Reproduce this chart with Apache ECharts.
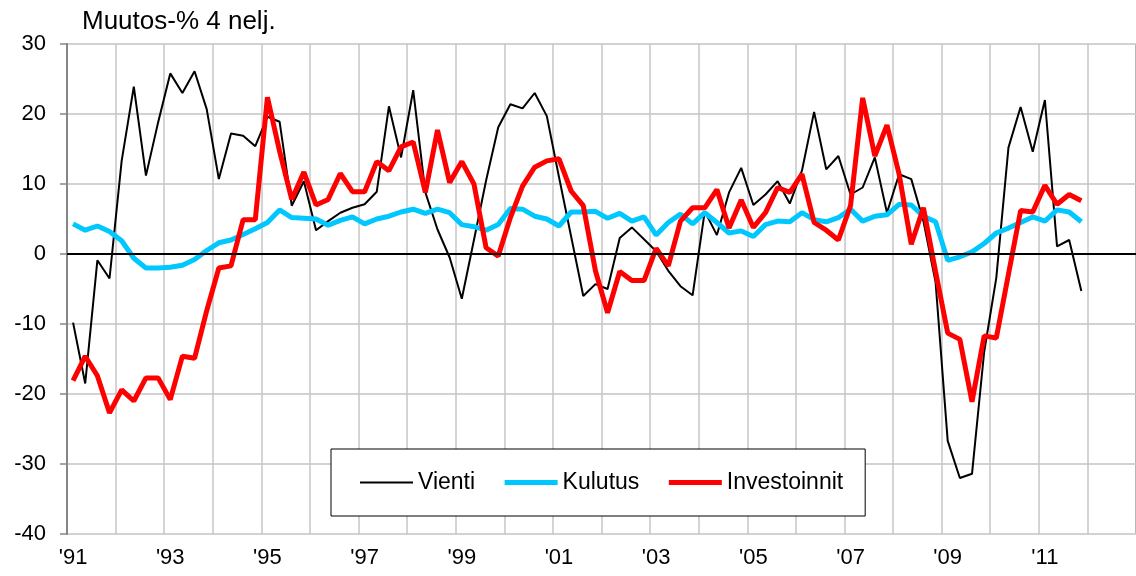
<!DOCTYPE html>
<html>
<head>
<meta charset="utf-8">
<script src="https://cdn.jsdelivr.net/npm/echarts@6/dist/echarts.min.js"></script>
<style>
  html, body { margin: 0; padding: 0; background: #fff; }
  #main { width: 1136px; height: 576px; }
</style>
</head>
<body>
<div id="main"></div>
<script>
// vuodet, neljännekset
const years = ['1991','1992','1993','1994','1995','1996','1997','1998','1999','2000','2001',
               '2002','2003','2004','2005','2006','2007','2008','2009','2010','2011','2012'];
const quarters = years.flatMap(y => ['Q1','Q2','Q3','Q4'].map(q => y + q));

const yTicks = { min: -40, max: 30, step: 10 };

// muutos-% 4 neljänneksen takaa
const vienti = [
  -9.8, -18.5, -0.9, -3.5, 13.3, 23.9, 11.2, 18.8, 25.8, 23.0, 26.1, 20.7,
  10.7, 17.2, 16.9, 15.4, 19.6, 18.9, 6.9, 10.4, 3.4, 4.7, 5.9, 6.6,
  7.1, 8.9, 21.1, 13.8, 23.4, 8.8, 3.5, -0.5, -6.4, 2.0, 10.5, 18.1,
  21.4, 20.8, 23.0, 19.7, 11.0, 2.5, -6.0, -4.3, -5.0, 2.3, 3.8, 2.1,
  0.4, -2.4, -4.6, -5.9, 6.1, 2.7, 8.8, 12.3, 7.0, 8.5, 10.4, 7.2,
  11.9, 20.3, 12.1, 14.0, 8.5, 9.5, 13.8, 5.9, 11.4, 10.7, 4.7, -4.0,
  -26.7, -32.0, -31.4, -14.0, -3.4, 15.2, 21.0, 14.6, 22.0, 1.1, 2.0, -5.3
];
const kulutus = [
  4.3, 3.4, 4.0, 3.2, 1.9, -0.6, -2.0, -2.0, -1.9, -1.6, -0.8, 0.5,
  1.6, 2.0, 2.8, 3.6, 4.5, 6.3, 5.2, 5.1, 5.0, 4.1, 4.8, 5.3,
  4.3, 5.0, 5.4, 6.0, 6.4, 5.8, 6.4, 5.9, 4.2, 3.9, 3.4, 4.2,
  6.5, 6.4, 5.4, 5.0, 4.0, 6.0, 6.0, 6.1, 5.1, 5.8, 4.7, 5.3,
  2.7, 4.5, 5.7, 4.3, 5.9, 4.5, 3.0, 3.3, 2.5, 4.2, 4.7, 4.6,
  5.9, 4.9, 4.6, 5.2, 6.4, 4.7, 5.4, 5.6, 7.1, 7.0, 5.4, 4.6,
  -0.9, -0.4, 0.3, 1.5, 3.0, 3.7, 4.5, 5.3, 4.7, 6.3, 6.0, 4.6
];
const investoinnit = [
  -18.1, -14.6, -17.4, -22.7, -19.4, -21.0, -17.7, -17.7, -20.8, -14.6, -14.9, -8.1,
  -2.0, -1.7, 4.9, 4.9, 22.4, 14.7, 7.8, 11.7, 7.0, 7.8, 11.5, 8.9,
  8.9, 13.2, 11.9, 15.3, 16.0, 8.8, 17.7, 10.2, 13.2, 10.0, 0.9, -0.3,
  5.2, 9.7, 12.4, 13.3, 13.6, 9.0, 6.9, -2.4, -8.4, -2.5, -3.8, -3.8,
  0.8, -1.7, 4.7, 6.6, 6.6, 9.2, 3.7, 7.7, 3.8, 5.9, 9.5, 8.8,
  11.4, 4.5, 3.4, 2.0, 6.9, 22.3, 14.0, 18.4, 11.4, 1.4, 6.6, -2.5,
  -11.3, -12.2, -21.1, -11.7, -12.0, -2.9, 6.2, 6.0, 9.8, 7.1, 8.5, 7.6
];

const font = "'Liberation Sans', Arial, sans-serif";
const chart = echarts.init(document.getElementById('main'));

chart.setOption({
  animation: false,
  backgroundColor: '#fff',
  title: {
    text: 'Muutos-% 4 nelj.',
    left: 77, top: 4,
    textStyle: { fontFamily: font, fontSize: 26, fontWeight: 'normal', color: '#000' }
  },
  grid: {
    left: 67, top: 44, bottom: 42, right: -8,
    show: true, borderColor: '#868686', borderWidth: 2
  },
  legend: {
    left: 331, top: 449,
    padding: [22, 22, 22, 28],
    itemWidth: 53, itemHeight: 14, itemGap: 27,
    backgroundColor: '#fff', borderColor: '#000', borderWidth: 1,
    itemStyle: { opacity: 0 },
    textStyle: { fontFamily: font, fontSize: 23, color: '#000' },
    data: [
      { name: 'Vienti', lineStyle: { width: 2 } },
      { name: 'Kulutus', lineStyle: { width: 5 } },
      { name: 'Investoinnit', lineStyle: { width: 5 } }
    ]
  },
  xAxis: {
    type: 'category',
    data: quarters,
    boundaryGap: true,
    axisLine: { show: false },
    axisTick: { show: false },
    axisLabel: {
      interval: 7, margin: 13,
      fontFamily: font, fontSize: 22, color: '#000',
      formatter: v => "'" + v.slice(2, 4)
    },
    splitLine: { show: true, interval: 3, lineStyle: { color: '#c6c6c6', width: 1.5 } }
  },
  yAxis: {
    type: 'value',
    min: yTicks.min, max: yTicks.max, interval: yTicks.step,
    axisLine: { show: true, lineStyle: { color: '#868686', width: 2 } },
    axisTick: { show: true, length: 7, lineStyle: { color: '#868686', width: 1.5 } },
    axisLabel: { margin: 21, fontFamily: font, fontSize: 22, color: '#000' },
    splitLine: { lineStyle: { color: '#d2d2d2', width: 2 } }
  },
  series: [
    {
      name: 'Vienti', type: 'line', data: vienti,
      symbol: 'none', color: '#000',
      lineStyle: { width: 2, color: '#000' },
      markLine: {
        silent: true, symbol: 'none', label: { show: false },
        lineStyle: { color: '#000', width: 2, type: 'solid' },
        data: [{ yAxis: 0 }]
      }
    },
    {
      name: 'Kulutus', type: 'line', data: kulutus,
      symbol: 'none', color: '#00c8ff',
      lineStyle: { width: 5, color: '#00c8ff' }
    },
    {
      name: 'Investoinnit', type: 'line', data: investoinnit,
      symbol: 'none', color: '#ff0000',
      lineStyle: { width: 5, color: '#ff0000' }
    }
  ]
});
</script>
</body>
</html>
